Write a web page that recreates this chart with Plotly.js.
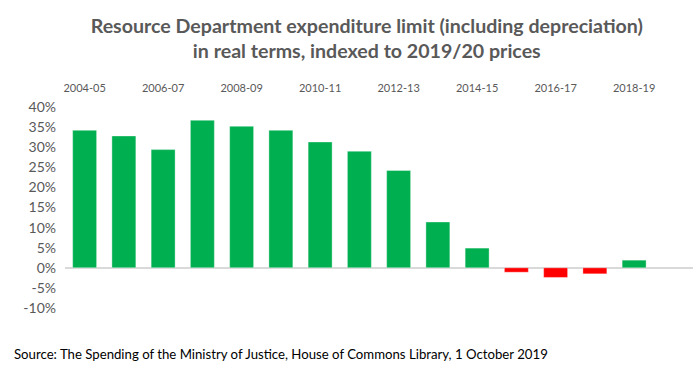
<!DOCTYPE html>
<html>
<head>
<meta charset="utf-8">
<script src="https://cdn.plot.ly/plotly-3.0.1.min.js"></script>
<style>
html,body{margin:0;padding:0;background:#fff;}
#chart{width:700px;height:371px;}
</style>
</head>
<body>
<div id="chart"></div>
<script>
const categories = ["2004-05","2005-06","2006-07","2007-08","2008-09","2009-10","2010-11","2011-12","2012-13","2013-14","2014-15","2015-16","2016-17","2017-18","2018-19"];
const values = [34.2, 32.8, 29.4, 36.7, 35.2, 34.2, 31.3, 29.0, 24.2, 11.4, 4.9, -1.1, -2.4, -1.5, 1.9];
const tickLabels = ["2004-05","2006-07","2008-09","2010-11","2012-13","2014-15","2016-17","2018-19"];
const yTicks = [-10, -5, 0, 5, 10, 15, 20, 25, 30, 35, 40];

const GREEN = "#00B050", RED = "#FF0000", GREY = "#595959";
const FONT = "Lato, 'Open Sans', sans-serif";

const trace = {
  type: "bar",
  x: categories,
  y: values,
  marker: {
    color: values.map(v => v < 0 ? RED : GREEN),
    line: {color: "rgba(255,255,255,0.6)", width: 0.6}
  },
  hoverinfo: "x+y"
};

const layout = {
  width: 700, height: 371,
  paper_bgcolor: "#fff", plot_bgcolor: "#fff",
  margin: {l: 65, r: 7, t: 107, b: 63},
  showlegend: false,
  bargap: 0.39,
  title: {
    text: "Resource Department expenditure limit (including depreciation)<br>in real terms, indexed to 2019/20 prices",
    font: {family: FONT, size: 19.6, color: GREY, weight: "bold"},
    x: 0.524, xanchor: "center", xref: "container",
    y: 0.912, yanchor: "top"
  },
  xaxis: {
    type: "category",
    categoryarray: categories,
    range: [-0.5, 15.5],
    side: "top",
    tickvals: tickLabels,
    ticktext: tickLabels,
    ticks: "",
    showgrid: false,
    showline: false,
    zeroline: false,
    tickfont: {family: FONT, size: 11, color: GREY},
    ticklabelstandoff: 12
  },
  yaxis: {
    range: [-10, 40],
    tickvals: yTicks,
    ticktext: yTicks.map(v => v + "%"),
    showgrid: false,
    zeroline: true,
    zerolinecolor: "#D9D9D9",
    zerolinewidth: 1.5,
    showline: false,
    ticks: "",
    tickfont: {family: FONT, size: 14, color: GREY},
    ticklabelstandoff: 8
  },
  annotations: [{
    text: "Source: The Spending of the Ministry of Justice, House of Commons Library, 1 October 2019",
    xref: "paper", yref: "paper",
    x: -0.085, y: -0.18,
    xanchor: "left", yanchor: "top",
    showarrow: false,
    font: {family: FONT, size: 13.2, color: "#000"}
  }]
};

Plotly.newPlot("chart", [trace], layout, {displayModeBar: false, staticPlot: true});
</script>
</body>
</html>
